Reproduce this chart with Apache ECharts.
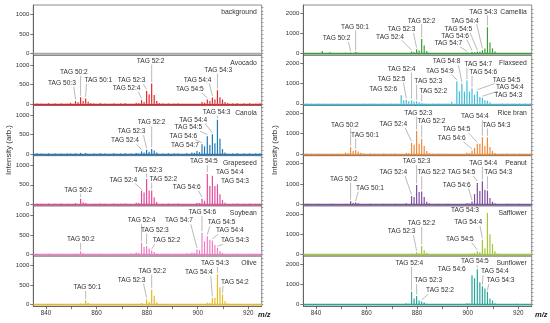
<!DOCTYPE html>
<html><head><meta charset="utf-8">
<script src="https://cdn.jsdelivr.net/npm/echarts@6/dist/echarts.min.js"></script>
<style>html,body{margin:0;padding:0;background:#fff}#c{width:550px;height:323px}</style>
</head><body><div id="c"></div>
<script>
// ---------------- DATA ----------------
const xTickValues = [840, 850, 860, 870, 880, 890, 900, 910, 920];
const xLabelValues = [840, 860, 880, 900, 920];
const leftYLabels = [0, 500, 1000];
const rightYLabels = [0, 1000, 2000];
const leftYMinor = [0, 100, 200, 300, 400, 500, 600, 700, 800, 900, 1000, 1100, 1200];
const rightYMinor = [0, 200, 400, 600, 800, 1000, 1200, 1400, 1600, 1800, 2000, 2200];

const leftNames = ['background', 'Avocado', 'Canola', 'Grapeseed', 'Soybean', 'Olive'];
const rightNames = ['Camellia', 'Flaxseed', 'Rice bran', 'Peanut', 'Safflower', 'Sunflower'];

const baselineNoise = [[836.5,18],[838.2,12],[841,20],[843.6,14],[846.1,16],[848.4,12],[858.9,15],[861.5,20],[863.2,12],[866.8,18],[869.5,14],[871.3,20],[886.2,15],[888.4,18],[890.7,12],[892.2,16],[913.8,15],[915.6,20],[918.3,14],[920.5,18],[922.9,12],[924.6,15]];

const backgroundPeaks = [];
const avocadoPeaks = [[849.7,30],[851.7,70],[852.7,40],[853.7,170],[854.7,70],[855.7,140],[856.7,55],[857.7,20],
 [875.7,30],[876.7,20],[877.8,95],[878.8,50],[879.8,330],[880.8,240],[881.8,520],[882.8,230],[883.8,70],[884.8,20],
 [901.7,50],[902.7,30],[903.8,110],[904.8,70],[905.8,160],[906.8,110],[907.8,350],[908.8,170],[909.8,110],[910.8,50],[911.8,20]];
const canolaPeaks = [[849.7,15],[851.7,20],[853.7,30],[855.7,25],
 [873.7,15],[875.7,25],[876.7,15],[877.8,70],[878.8,40],[879.8,110],[880.8,60],[881.8,130],[882.8,90],[883.8,40],
 [895.7,20],[897.7,40],[898.7,30],[899.7,80],[900.7,50],[901.7,250],[902.7,200],[903.8,460],[904.8,230],[905.8,510],[906.8,280],[907.8,880],[908.8,390],[909.8,130],[910.8,40]];
const grapeseedPeaks = [[851.7,30],[853.7,140],[854.7,50],[855.7,30],
 [875.7,40],[876.7,30],[877.8,350],[878.8,300],[879.8,650],[880.8,350],[881.8,350],[882.8,180],[883.8,60],
 [899.7,40],[900.7,30],[901.7,140],[902.7,90],[903.8,780],[904.8,470],[905.8,730],[906.8,470],[907.8,510],[908.8,260],[909.8,110],[910.8,40]];
const soybeanPeaks = [[851.7,20],[853.7,80],[854.7,30],
 [873.7,30],[874.7,20],[875.7,50],[876.7,40],[877.8,300],[878.8,190],[879.8,220],[880.8,150],[881.8,100],[882.8,60],[883.8,25],
 [895.7,30],[896.7,20],[897.7,50],[898.7,40],[899.7,130],[900.7,110],[901.7,560],[902.7,340],[903.8,470],[904.8,380],[905.8,360],[906.8,240],[907.8,170],[908.8,90],[909.8,40]];
const olivePeaks = [[853.7,30],[855.7,110],[856.7,40],
 [877.8,40],[879.8,140],[880.8,70],[881.8,390],[882.8,230],[883.8,60],
 [903.8,50],[904.8,40],[905.8,170],[906.8,180],[907.8,780],[908.8,450],[909.8,260],[910.8,90],[911.8,30]];

const camelliaPeaks = [[842.5,130],[845.5,70],[851.7,40],[853.7,50],[855.7,80],[856.7,40],[861,30],[865,30],
 [875.7,30],[877.8,100],[878.8,60],[879.8,220],[880.8,150],[881.8,720],[882.8,400],[883.8,130],[884.8,40],
 [899.7,40],[900.7,30],[901.7,80],[902.7,60],[903.8,100],[904.8,90],[905.8,170],[906.8,250],[907.8,1300],[908.8,550],[909.8,260],[910.8,100]];
const flaxseedPeaks = [[873.7,420],[874.7,180],[875.7,200],[876.7,120],[877.8,170],[878.8,110],[879.8,120],[880.8,80],[881.8,40],[882.8,20],
 [893.7,100],[895.7,1100],[896.7,620],[897.7,1000],[898.7,600],[899.7,1150],[900.7,600],[901.7,750],[902.7,450],[903.8,620],[904.8,330],[905.8,300],[906.8,170],[907.8,150],[908.8,70]];
const riceBranPeaks = [[851.7,60],[852.7,40],[853.7,340],[854.7,150],[855.7,200],[856.7,120],[857.7,60],[858.7,20],
 [875.7,60],[876.7,40],[877.8,550],[878.8,450],[879.8,1130],[880.8,500],[881.8,750],[882.8,400],[883.8,150],[884.8,40],
 [899.7,60],[900.7,40],[901.7,170],[902.7,300],[903.8,500],[904.8,500],[905.8,830],[906.8,400],[907.8,820],[908.8,350],[909.8,150],[910.8,50]];
const peanutPeaks = [[853.7,150],[854.7,60],[855.7,80],[856.7,40],
 [875.7,40],[877.8,400],[878.8,350],[879.8,950],[880.8,600],[881.8,630],[882.8,350],[883.8,120],[884.8,40],
 [899.7,40],[900.7,30],[901.7,130],[902.7,500],[903.8,1050],[904.8,650],[905.8,1130],[906.8,700],[907.8,670],[908.8,300],[909.8,120],[910.8,40]];
const safflowerPeaks = [[877.8,40],[879.8,100],[880.8,50],[881.8,420],[882.8,200],[883.8,80],
 [901.7,40],[902.7,60],[903.8,150],[904.8,120],[905.8,720],[906.8,300],[907.8,2050],[908.8,1000],[909.8,520],[910.8,150],[911.8,40]];
const sunflowerPeaks = [[873.7,30],[875.7,60],[876.7,40],[877.8,630],[878.8,300],[879.8,420],[880.8,200],[881.8,150],[882.8,100],[883.8,40],
 [899.7,60],[900.7,50],[901.7,1450],[902.7,1300],[903.8,1750],[904.8,1100],[905.8,900],[906.8,800],[907.8,630],[908.8,300],[909.8,200],[910.8,60],
 [917,30],[919.5,40],[921,30]];

// labelled peaks: [text, m/z]
const backgroundTags = [];
const avocadoTags = [['TAG 50:3',851.7],['TAG 50:2',853.7],['TAG 50:1',855.7],['TAG 52:4',877.8],['TAG 52:3',879.8],['TAG 52:2',881.8],['TAG 54:5',903.8],['TAG 54:4',905.8],['TAG 54:3',907.8]];
const canolaTags = [['TAG 52:4',877.8],['TAG 52:3',879.8],['TAG 52:2',881.8],['TAG 54:7',899.7],['TAG 54:6',901.7],['TAG 54:5',903.8],['TAG 54:4',905.8],['TAG 54:3',907.8]];
const grapeseedTags = [['TAG 50:2',853.7],['TAG 52:4',877.8],['TAG 52:3',879.8],['TAG 52:2',881.8],['TAG 54:6',901.7],['TAG 54:5',903.8],['TAG 54:4',905.8],['TAG 54:3',907.8]];
const soybeanTags = [['TAG 50:2',853.7],['TAG 52:4',877.8],['TAG 52:3',879.8],['TAG 52:2',881.8],['TAG 54:7',899.7],['TAG 54:6',901.7],['TAG 54:5',903.8],['TAG 54:4',905.8],['TAG 54:3',907.8]];
const oliveTags = [['TAG 50:1',855.7],['TAG 52:3',879.8],['TAG 52:2',881.8],['TAG 54:4',905.8],['TAG 54:3',907.8],['TAG 54:2',909.8]];
const camelliaTags = [['TAG 50:2',853.7],['TAG 50:1',855.7],['TAG 52:4',877.8],['TAG 52:3',879.8],['TAG 52:2',881.8],['TAG 54:7',899.7],['TAG 54:6',901.7],['TAG 54:5',903.8],['TAG 54:4',905.8],['TAG 54:3',907.8]];
const flaxseedTags = [['TAG 52:6',873.7],['TAG 52:5',875.7],['TAG 52:4',877.8],['TAG 52:3',879.8],['TAG 52:2',881.8],['TAG 54:9',895.7],['TAG 54:8',897.7],['TAG 54:7',899.7],['TAG 54:6',901.7],['TAG 54:5',903.8],['TAG 54:4',905.8],['TAG 54:3',907.8]];
const riceBranTags = [['TAG 50:2',853.7],['TAG 50:1',855.7],['TAG 52:4',877.8],['TAG 52:3',879.8],['TAG 52:2',881.8],['TAG 54:6',901.7],['TAG 54:5',903.8],['TAG 54:4',905.8],['TAG 54:3',907.8]];
const peanutTags = [['TAG 50:2',853.7],['TAG 50:1',855.7],['TAG 52:4',877.8],['TAG 52:3',879.8],['TAG 52:2',881.8],['TAG 54:6',901.7],['TAG 54:5',903.8],['TAG 54:4',905.8],['TAG 54:3',907.8]];
const safflowerTags = [['TAG 52:3',879.8],['TAG 52:2',881.8],['TAG 54:5',903.8],['TAG 54:4',905.8],['TAG 54:3',907.8]];
const sunflowerTags = [['TAG 52:4',877.8],['TAG 52:3',879.8],['TAG 52:2',881.8],['TAG 54:6',901.7],['TAG 54:5',903.8],['TAG 54:4',905.8],['TAG 54:3',907.8]];

// ---------------- LAYOUT (label offsets in px: [dx from peak, height above baseline]) ----------------
const tagPos = {
  background: [],
  Avocado: [[-13.6,20.6],[-6.7,31.6],[12.6,23.9],[-15,15.6],[-15,23.2],[-1,42.9],[-17.4,14.6],[-14.8,23.9],[0.8,33.9]],
  Canola: [[-16.6,13.4],[-15,22.4],[0,31.4],[-12,9.1],[-18.7,18.1],[-19,26.4],[-19.2,34.1],[-0.8,41.8]],
  Grapeseed: [[-2.4,14.3],[-18.3,24.3],[1.6,34.3],[11.6,25.3],[-15.3,17],[-3.4,42.6],[17.5,32],[17.5,22.6]],
  Soybean: [[0.3,15.2],[0,33.8],[8.3,24.5],[15,13.8],[-18,33.8],[0.3,41.8],[14.3,31.8],[17.5,23.8],[17.5,13.8]],
  Olive: [[1.6,17.4],[-15,24.7],[0.6,33.4],[-13.5,32],[-2.5,41.4],[12.4,22.4]],
  Camellia: [[-14,15.3],[-0.7,26.9],[-21.6,16.9],[-15,24.3],[0,32.9],[-18.7,10.3],[-17,17.6],[-19,24.3],[-17.5,32.9],[-4.2,41.9]],
  Flaxseed: [[-18,14.6],[-14.6,24.9],[-9.9,34.6],[11.6,22.6],[11.6,12.9],[-17,32.9],[-15.3,42.2],[11.3,39.9],[11.3,31.6],[29.3,23.9],[27.5,16.2],[20.8,8.9]],
  'Rice bran': [[-5.7,29.1],[9.3,19.1],[-18.3,29.8],[1.6,40.8],[10,32.8],[-20.3,15.8],[-20.7,24.8],[-7.5,37.4],[9.2,29.1]],
  Peanut: [[-6.7,25],[14.3,16],[-18.3,31.6],[0,42.6],[10,31.6],[-15.3,19.3],[-15.7,31.6],[0.8,41],[10.8,31.6]],
  Safflower: [[-15,22.8],[0,31.2],[-17.4,15.2],[-14.2,31.8],[-22.5,44.5]],
  Sunflower: [[-2.3,41.4],[11.6,24],[18.3,14],[-20.3,35.4],[-2.4,43],[12.5,33],[13.2,24]]
};

const panels = [
  {name:'background', col:0, row:0, peaks:backgroundPeaks, tags:backgroundTags, color:'#a8a8a8'},
  {name:'Avocado', col:0, row:1, peaks:avocadoPeaks, tags:avocadoTags, color:'#e3262b'},
  {name:'Canola', col:0, row:2, peaks:canolaPeaks, tags:canolaTags, color:'#2178b8'},
  {name:'Grapeseed', col:0, row:3, peaks:grapeseedPeaks, tags:grapeseedTags, color:'#e44a9a'},
  {name:'Soybean', col:0, row:4, peaks:soybeanPeaks, tags:soybeanTags, color:'#f07cc4'},
  {name:'Olive', col:0, row:5, peaks:olivePeaks, tags:oliveTags, color:'#e8b923'},
  {name:'Camellia', col:1, row:0, peaks:camelliaPeaks, tags:camelliaTags, color:'#3d9b3d'},
  {name:'Flaxseed', col:1, row:1, peaks:flaxseedPeaks, tags:flaxseedTags, color:'#41bcd8'},
  {name:'Rice bran', col:1, row:2, peaks:riceBranPeaks, tags:riceBranTags, color:'#ef8a3a'},
  {name:'Peanut', col:1, row:3, peaks:peanutPeaks, tags:peanutTags, color:'#7d4f9e'},
  {name:'Safflower', col:1, row:4, peaks:safflowerPeaks, tags:safflowerTags, color:'#a4c639'},
  {name:'Sunflower', col:1, row:5, peaks:sunflowerPeaks, tags:sunflowerTags, color:'#2aa59a'}
];

const colLeft = [33.3, 303.3];
const plotW = 228.4;
const top0 = 5;
const panelH = 50.2;
const xMin = 835, xMax = 925.3;
const yRange = [[-40, 1250], [-80, 2400]];
const FONT = '"Liberation Sans", Arial, sans-serif';
const tagFontSize = 6.6;

const measureCtx = document.createElement('canvas').getContext('2d');
measureCtx.font = tagFontSize + 'px ' + FONT;
function textW(t) { return measureCtx.measureText(t).width; }
const plainNum = v => String(v);

const grids = [], xAxes = [], yAxes = [], series = [], graphics = [];

panels.forEach((p, i) => {
  const gTop = top0 + p.row * panelH;
  const isBottom = p.row === 5;
  grids.push({left: colLeft[p.col], top: gTop, width: plotW, height: panelH, show: true,
    borderColor: '#6e6e6e', borderWidth: 0.8, backgroundColor: 'transparent'});
  xAxes.push({type: 'value', gridIndex: i, min: xMin, max: xMax, splitLine: {show: false},
    axisLine: {show: isBottom, onZero: false, lineStyle: {color: '#555', width: 0.8}},
    axisTick: {show: isBottom, customValues: xTickValues, length: 3, lineStyle: {color: '#555', width: 0.8}},
    axisLabel: {show: isBottom, customValues: xLabelValues, formatter: plainNum, fontSize: 6.3, color: '#333', margin: 4, fontFamily: FONT}});
  const yr = yRange[p.col];
  yAxes.push({type: 'value', gridIndex: i, min: yr[0], max: yr[1], splitLine: {show: false},
    axisLine: {show: true, lineStyle: {color: '#555', width: 0.8}},
    axisTick: {show: true, customValues: p.col ? rightYLabels : leftYLabels, length: 3, lineStyle: {color: '#555', width: 0.8}},
    axisLabel: {customValues: p.col ? rightYLabels : leftYLabels, formatter: plainNum, fontSize: 6.1, color: '#333', margin: 4, fontFamily: FONT}});
  yAxes.push({type: 'value', gridIndex: i, min: yr[0], max: yr[1], splitLine: {show: false},
    axisLine: {show: false},
    axisTick: {show: true, customValues: p.col ? rightYMinor : leftYMinor, length: 1.6, lineStyle: {color: '#555', width: 0.6}},
    axisLabel: {show: false}});
  const yIdx = i * 2;
  const barData = p.peaks.concat(p.name === 'background' ? [] : baselineNoise);
  series.push({type: 'bar', xAxisIndex: i, yAxisIndex: yIdx, data: barData, barWidth: 1.2,
    itemStyle: {color: p.color}, silent: true, animation: false,
    markLine: {silent: true, symbol: 'none', label: {show: false}, animation: false,
      lineStyle: {color: p.color, width: 1.4, type: 'solid'}, data: [{yAxis: 0}]}});
  const pos = tagPos[p.name];
  const tagData = p.tags.map((t, k) => {
    let h = 0;
    p.peaks.forEach(pk => { if (Math.abs(pk[0] - t[1]) < 0.3) h = pk[1]; });
    return [t[1], h, k];
  });
  series.push({type: 'custom', xAxisIndex: i, yAxisIndex: yIdx, data: tagData, silent: true, animation: false, z: 5,
    renderItem: function (params, api) {
      const k = api.value(2);
      const text = p.tags[k][0];
      const off = pos[k];
      const pt = api.coord([api.value(0), api.value(1)]);
      const z0 = api.coord([api.value(0), 0]);
      const cx = pt[0] + off[0];
      const cy = z0[1] - off[1];
      const w = textW(text);
      const sx = Math.min(Math.max(pt[0], cx - w / 2 + 2), cx + w / 2 - 2);
      const sy = cy + 3.6;
      const ey = pt[1] - 1.5;
      const children = [];
      if (ey > sy + 1) {
        children.push({type: 'line', shape: {x1: sx, y1: sy, x2: pt[0], y2: ey},
          style: {stroke: '#8c8c8c', lineWidth: 0.6}});
      }
      children.push({type: 'text', style: {text: text, x: cx, y: cy, align: 'center', verticalAlign: 'middle',
        fontSize: tagFontSize, fontFamily: FONT, fill: '#333'}});
      return {type: 'group', children: children};
    }});
  graphics.push({type: 'text', x: colLeft[p.col] + plotW - 5, y: gTop + 7.5, silent: true,
    style: {text: p.name, align: 'right', verticalAlign: 'middle', fontSize: 6.8, fontFamily: FONT, fill: '#333'}});
});

graphics.push({type: 'text', x: 8.5, y: 150, rotation: Math.PI / 2, silent: true,
  style: {text: 'Intensity (arb.)', align: 'center', verticalAlign: 'middle', fontSize: 7.8, fontFamily: FONT, fill: '#333'}});
graphics.push({type: 'text', x: 275, y: 150, rotation: Math.PI / 2, silent: true,
  style: {text: 'Intensity (arb.)', align: 'center', verticalAlign: 'middle', fontSize: 7.8, fontFamily: FONT, fill: '#333'}});
graphics.push({type: 'text', x: 258, y: 315, silent: true,
  style: {text: 'm/z', align: 'left', verticalAlign: 'middle', fontSize: 7.5, fontStyle: 'italic', fontWeight: 'bold', fontFamily: FONT, fill: '#222'}});
graphics.push({type: 'text', x: 535, y: 315, silent: true,
  style: {text: 'm/z', align: 'left', verticalAlign: 'middle', fontSize: 7.5, fontStyle: 'italic', fontWeight: 'bold', fontFamily: FONT, fill: '#222'}});

const chart = echarts.init(document.getElementById('c'), null, {renderer: 'canvas'});
chart.setOption({animation: false, grid: grids, xAxis: xAxes, yAxis: yAxes, series: series, graphic: graphics});
</script></body></html>
